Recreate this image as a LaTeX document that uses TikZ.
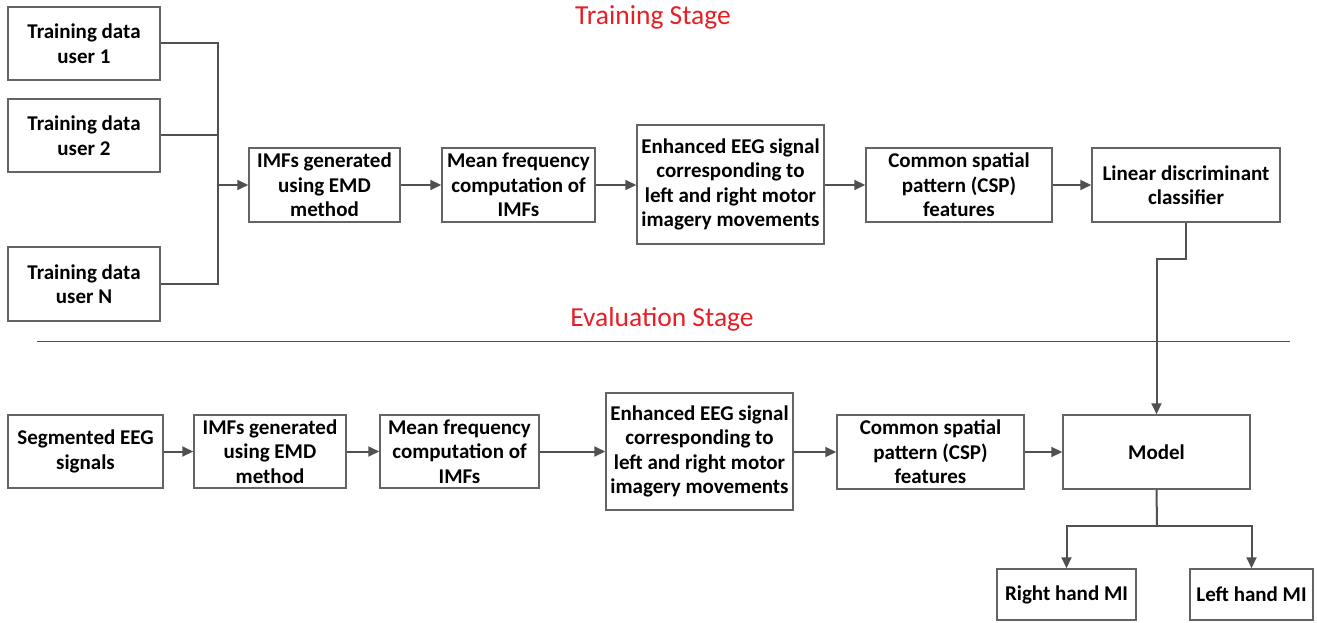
\documentclass[tikz,border=0pt]{standalone}
\usepackage{fontspec}
\setmainfont{Carlito}
\usetikzlibrary{arrows.meta}
\definecolor{linegray}{RGB}{80,80,80}
\definecolor{boxgray}{RGB}{100,100,100}
\definecolor{titlered}{RGB}{232,30,36}
\begin{document}
\begin{tikzpicture}[x=1pt,y=-1pt,
  box/.style={draw=boxgray,line width=1.5pt,inner sep=0pt,align=center,
    font=\fontsize{21}{24.5}\selectfont\bfseries},
  conn/.style={draw=linegray,line width=2pt},
  arr/.style={conn,-{Triangle[length=11pt,width=10pt]}},
  stagetitle/.style={text=titlered,font=\fontsize{27.5}{32}\selectfont,inner sep=0pt}]
\useasboundingbox (0,0) rectangle (1317,623);
% titles
\node[stagetitle] (t1) at (653,17) {Training Stage};
\node[stagetitle] (t2) at (662,319) {Evaluation Stage};
% top row
\node[box,minimum width=152,minimum height=73] (u1) at (84,43.5) {Training data\\user 1};
\node[box,minimum width=152,minimum height=73] (u2) at (84,135.5) {Training data\\user 2};
\node[box,minimum width=152,minimum height=74] (uN) at (84,284) {Training data\\user N};
\node[box,minimum width=151,minimum height=74] (imf1) at (324.5,185) {IMFs generated\\using EMD\\method};
\node[box,minimum width=153,minimum height=74] (mf1) at (518.5,185) {Mean frequency\\computation of\\IMFs};
\node[box,minimum width=187,minimum height=119] (en1) at (730.5,184.5) {Enhanced EEG signal\\corresponding to\\left and right motor\\imagery movements};
\node[box,minimum width=186,minimum height=74] (csp1) at (959,185) {Common spatial\\pattern (CSP)\\features};
\node[box,minimum width=188,minimum height=74] (lda) at (1186,185) {Linear discriminant\\classifier};
% bottom row
\node[box,minimum width=155,minimum height=73] (seg) at (85.5,451.5) {Segmented EEG\\signals};
\node[box,minimum width=152,minimum height=73] (imf2) at (270,451.5) {IMFs generated\\using EMD\\method};
\node[box,minimum width=159,minimum height=73] (mf2) at (459.5,451.5) {Mean frequency\\computation of\\IMFs};
\node[box,minimum width=187,minimum height=117] (en2) at (699.5,451.5) {Enhanced EEG signal\\corresponding to\\left and right motor\\imagery movements};
\node[box,minimum width=187,minimum height=74] (csp2) at (930.5,452) {Common spatial\\pattern (CSP)\\features};
\node[box,minimum width=187,minimum height=74] (model) at (1156.5,452) {Model};
\node[box,minimum width=139,minimum height=51] (rh) at (1066.5,594.5) {Right hand MI};
\node[box,minimum width=123,minimum height=51] (lh) at (1251.5,594.5) {Left hand MI};
% separator
\draw[draw=linegray,line width=0.9pt] (37,341) -- (1290,341);
% top connectors
\coordinate (j) at (218,185);
\draw[conn] (u1.east) -| (j);
\draw[conn] (u2.east) -| (j);
\draw[conn] (uN.east) -| (j);
\draw[arr] (j) -- (imf1.west);
\draw[arr] (imf1.east) -- (mf1.west);
\draw[arr] (mf1.east) -- (en1.west |- mf1.east);
\draw[arr] (en1.east |- csp1.west) -- (csp1.west);
\draw[arr] (csp1.east) -- (lda.west);
\coordinate (bend) at (1186,259);
\draw[arr] (lda.south) -- (bend) -| (model.north);
% bottom connectors
\draw[arr] (seg.east) -- (imf2.west);
\draw[arr] (imf2.east) -- (mf2.west);
\draw[arr] (mf2.east) -- (en2.west |- mf2.east);
\draw[arr] (en2.east |- csp2.west) -- (csp2.west);
\draw[arr] (csp2.east) -- (model.west);
\coordinate (split) at (1157,526);
\draw[conn] (model.south) -- (split);
\draw[arr] (split) -| (rh.north);
\draw[arr] (split) -| (lh.north);
\end{tikzpicture}
\end{document}
